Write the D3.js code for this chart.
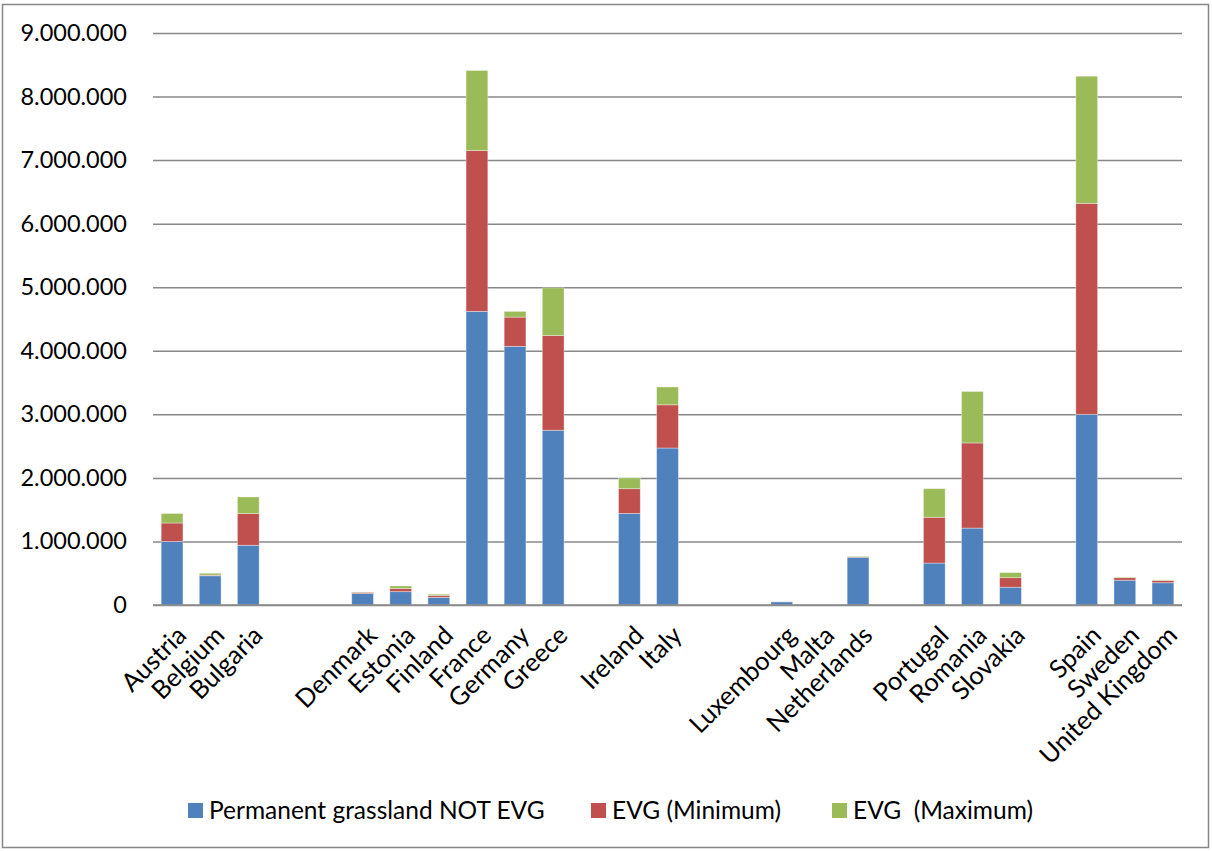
<!DOCTYPE html>
<html>
<head>
<meta charset="utf-8">
<script src="https://cdn.jsdelivr.net/npm/d3@7"></script>
<style>
  body { margin: 0; background: #fff; }
  svg { display: block; font-family: Lato, "Open Sans", sans-serif; }
</style>
</head>
<body>
<div id="chart"></div>
<script>
// slots follow the EU-27 order, countries without data keep an empty label
const countries = ['Austria', 'Belgium', 'Bulgaria', '', '', 'Denmark', 'Estonia', 'Finland', 'France',
  'Germany', 'Greece', '', 'Ireland', 'Italy', '', '', 'Luxembourg', 'Malta', 'Netherlands', '',
  'Portugal', 'Romania', 'Slovakia', '', 'Spain', 'Sweden', 'United Kingdom'];

const notEvg = [1000000, 460000, 940000, 0, 0, 180000, 210000, 120000, 4620000,
  4070000, 2750000, 0, 1440000, 2470000, 0, 0, 50000, 0, 750000, 0,
  660000, 1210000, 280000, 0, 3000000, 390000, 350000];

const evgMin = [290000, 10000, 500000, 0, 0, 20000, 50000, 30000, 2530000,
  460000, 1490000, 0, 390000, 680000, 0, 0, 3000, 0, 10000, 0,
  720000, 1340000, 150000, 0, 3320000, 40000, 35000];

const evgMax = [150000, 30000, 260000, 0, 0, 5000, 40000, 20000, 1260000,
  90000, 750000, 0, 170000, 280000, 0, 0, 1000, 0, 10000, 0,
  450000, 810000, 80000, 0, 2000000, 10000, 10000];

const seriesNames = ['Permanent grassland NOT EVG', 'EVG (Minimum)', 'EVG  (Maximum)'];
const seriesColors = ['#4F81BD', '#C0504D', '#9BBB59'];
const yTicks = [0, 1000000, 2000000, 3000000, 4000000, 5000000, 6000000, 7000000, 8000000, 9000000];

const W = 1212, H = 851;
const plot = { left: 153, right: 1182, top: 33, bottom: 605 };

const svg = d3.select('#chart').append('svg')
  .attr('width', W).attr('height', H);

// chart frame
svg.append('rect')
  .attr('x', 2.5).attr('y', 4.5)
  .attr('width', 1206).attr('height', 843)
  .attr('fill', '#fff').attr('stroke', '#868686').attr('stroke-width', 1.5);

const locale = d3.formatLocale({ decimal: ',', thousands: '.', grouping: [3], currency: ['', '€'] });
const fmt = locale.format(',d');

const x = d3.scaleBand().domain(d3.range(countries.length)).range([plot.left, plot.right]).padding(0);
const y = d3.scaleLinear().domain([0, 9000000]).range([plot.bottom, plot.top]);
const barW = x.bandwidth() / 1.75;

// gridlines + y labels
const yAxis = d3.axisLeft(y).tickValues(yTicks).tickFormat(fmt)
  .tickSize(-(plot.right - plot.left)).tickPadding(26);
const gy = svg.append('g').attr('transform', `translate(${plot.left},0)`).call(yAxis);
gy.select('.domain').remove();
gy.selectAll('.tick line').attr('stroke', '#888').attr('stroke-width', 1.5);
gy.selectAll('.tick text').attr('font-size', 23.5).attr('fill', '#000')
  .attr('font-family', 'Lato, "Open Sans", sans-serif');

// stacked bars
const rows = countries.map((c, i) => ({ i, s0: notEvg[i], s1: evgMin[i], s2: evgMax[i] }));
const stack = d3.stack().keys(['s0', 's1', 's2'])(rows);

svg.append('g').selectAll('g').data(stack).join('g')
  .attr('fill', (d, k) => seriesColors[k])
  .selectAll('rect').data(d => d.filter(p => p[1] - p[0] > 0)).join('rect')
  .attr('x', p => x(p.data.i) + (x.bandwidth() - barW) / 2)
  .attr('width', barW)
  .attr('y', p => y(p[1]))
  .attr('height', p => y(p[0]) - y(p[1]))
  .attr('stroke', '#fff').attr('stroke-opacity', 0.45).attr('stroke-width', 0.8);

// axis line
svg.append('line')
  .attr('x1', plot.left).attr('x2', plot.right)
  .attr('y1', y(0)).attr('y2', y(0))
  .attr('stroke', '#888').attr('stroke-width', 1.5);

// category labels, rotated
svg.append('g').selectAll('text').data(countries.map((c, i) => ({ c, i })).filter(d => d.c)).join('text')
  .attr('transform', d => `translate(${x(d.i) + x.bandwidth() / 2 + 16},${plot.bottom + 32}) rotate(-45)`)
  .attr('text-anchor', 'end')
  .attr('font-size', 25.5)
  .text(d => d.c);

// legend
const legendX = [188, 591, 832];
const lg = svg.append('g').selectAll('g').data(seriesNames).join('g')
  .attr('transform', (d, k) => `translate(${legendX[k]},803)`);
lg.append('rect').attr('width', 15).attr('height', 15).attr('fill', (d, k) => seriesColors[k]);
lg.append('text').attr('x', 21).attr('y', 16).attr('font-size', 24.5).attr('xml:space', 'preserve')
  .style('white-space', 'pre').text(d => d);
</script>
</body>
</html>
